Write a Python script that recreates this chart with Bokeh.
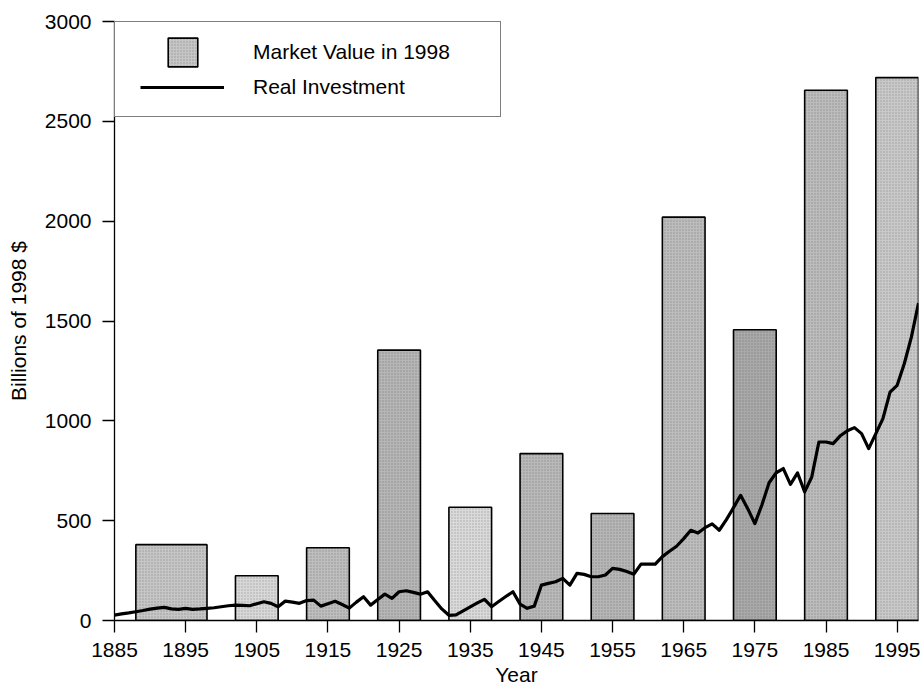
from bokeh.plotting import figure
from bokeh.models import ColumnDataSource, Legend, LegendItem, Range1d, FixedTicker
from bokeh.embed import file_html
from bokeh.resources import INLINE

# ---- data ----
bar_start = [1888, 1902, 1912, 1922, 1932, 1942, 1952, 1962, 1972, 1982, 1992]
bar_end = [1898, 1908, 1918, 1928, 1938, 1948, 1958, 1968, 1978, 1988, 1998]
market_value = [380, 224, 364, 1354, 567, 836, 536, 2020, 1456, 2656, 2719]

years = list(range(1885, 1999))
real_investment = [
    27, 33, 38, 44, 50, 57, 62, 66, 58, 56,          # 1885-1894
    61, 56, 58, 61, 64, 69, 74, 77, 76, 74,          # 1895-1904
    84, 94, 86, 69, 97, 92, 86, 100, 102, 72,        # 1905-1914
    84, 96, 80, 62, 92, 119, 77, 105, 132, 111,      # 1915-1924
    144, 149, 141, 132, 144, 100, 58, 26, 28, 48,    # 1925-1934
    68, 88, 106, 69, 95, 120, 144, 82, 61, 72,       # 1935-1944
    177, 186, 194, 211, 177, 236, 231, 219, 219, 228,  # 1945-1954
    261, 256, 245, 232, 282, 282, 282, 320, 347, 372,  # 1955-1964
    410, 452, 438, 465, 484, 452, 505, 565, 627, 560,  # 1965-1974
    485, 580, 690, 740, 761, 682, 739, 644, 719, 894,  # 1975-1984
    894, 886, 925, 950, 966, 936, 861, 936, 1011, 1144,  # 1985-1994
    1178, 1286, 1419, 1590,                          # 1995-1998
]

x_ticks = [1885, 1895, 1905, 1915, 1925, 1935, 1945, 1955, 1965, 1975, 1985, 1995]
y_ticks = [0, 500, 1000, 1500, 2000, 2500, 3000]
legend_labels = ["Market Value in 1998", "Real Investment"]

# ---- style (kept apart from data) ----
bar_shades = ["#c6c6c6", "#d8d8d8", "#bebebe", "#b6b6b6", "#dadada", "#b9b9b9",
              "#b6b6b6", "#bdbdbd", "#a9a9a9", "#bcbcbc", "#c9c9c9"]
FONT = "Liberation Sans"
FS = "21px"
HATCH = dict(hatch_pattern="dot", hatch_color="#444444", hatch_scale=3,
             hatch_weight=0.6, hatch_alpha=0.35)

p = figure(width=921, height=694, output_backend="svg", toolbar_location=None,
           x_range=Range1d(1885, 1998), y_range=Range1d(0, 3000),
           min_border_left=114, min_border_right=3, min_border_top=21,
           min_border_bottom=74)
p.outline_line_color = None
p.xgrid.visible = False
p.ygrid.visible = False

bars = ColumnDataSource(dict(left=bar_start, right=bar_end, top=market_value,
                             bottom=[0] * len(market_value), shade=bar_shades))
bar_r = p.quad(left="left", right="right", top="top", bottom="bottom", source=bars,
               fill_color="shade", line_color="black", line_width=1.6, **HATCH)

line_src = ColumnDataSource(dict(x=years, y=real_investment))
line_r = p.line("x", "y", source=line_src, line_color="black", line_width=3.2,
                line_join="round")

# main legend box: labels only
legend = Legend(items=[LegendItem(label=legend_labels[0], renderers=[]),
                       LegendItem(label=legend_labels[1], renderers=[])],
                location="top_left", margin=0, padding=15, spacing=6,
                glyph_width=95, glyph_height=29, label_standoff=28,
                label_width=232, label_height=29,
                label_text_font=FONT, label_text_font_size=FS,
                label_text_color="black",
                border_line_color="black", border_line_width=1.2,
                background_fill_color="white", background_fill_alpha=1.0)
p.add_layout(legend)

# legend swatches drawn as separate, frameless legends
patch_legend = Legend(items=[LegendItem(label=" ", renderers=[bar_r], index=0)],
                      location=(49.5, 550), margin=0, padding=0, spacing=0,
                      glyph_width=37, glyph_height=36, label_standoff=0,
                      label_width=0, label_height=0, label_text_font_size="1px",
                      border_line_color=None, background_fill_alpha=0)
line_legend = Legend(items=[LegendItem(label=" ", renderers=[line_r])],
                     location=(26, 528), margin=0, padding=0, spacing=0,
                     glyph_width=84, glyph_height=10, label_standoff=0,
                     label_width=0, label_height=0, label_text_font_size="1px",
                     border_line_color=None, background_fill_alpha=0)
p.add_layout(patch_legend)
p.add_layout(line_legend)

for ax in (p.xaxis[0], p.yaxis[0]):
    ax.axis_line_color = "black"
    ax.axis_line_width = 1.3
    ax.major_tick_line_color = "black"
    ax.major_tick_line_width = 1.3
    ax.major_tick_in = 0
    ax.major_tick_out = 12
    ax.minor_tick_line_color = None
    ax.major_label_text_font = FONT
    ax.major_label_text_font_size = FS
    ax.major_label_text_color = "black"
    ax.axis_label_text_font = FONT
    ax.axis_label_text_font_size = FS
    ax.axis_label_text_font_style = "normal"
    ax.axis_label_text_color = "black"

p.xaxis.ticker = FixedTicker(ticks=x_ticks)
p.yaxis.ticker = FixedTicker(ticks=y_ticks)
p.xaxis.axis_label = "Year"
p.yaxis.axis_label = "Billions of 1998 $"
p.xaxis.major_label_standoff = 10
p.xaxis.axis_label_standoff = 3
p.yaxis.major_label_standoff = 11
p.yaxis.axis_label_standoff = 12

open("out.html", "w").write(file_html(p, INLINE))
